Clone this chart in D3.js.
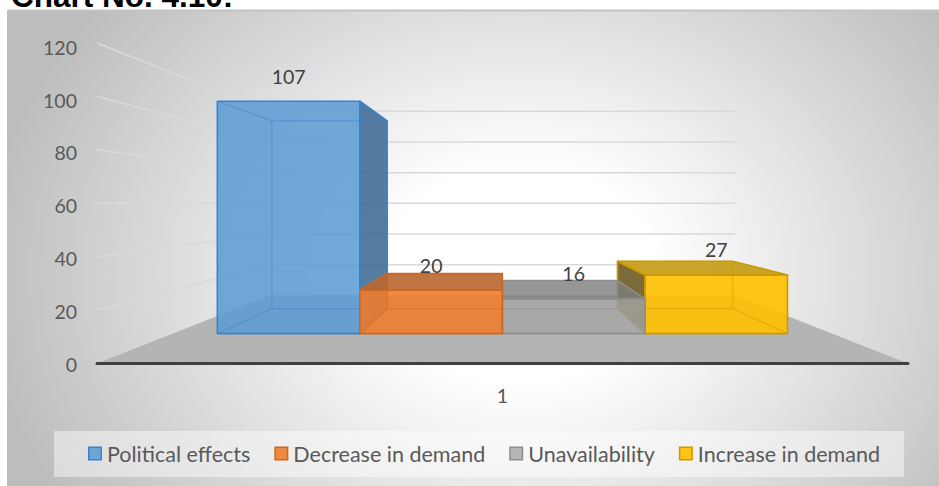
<!DOCTYPE html>
<html>
<head>
<meta charset="utf-8">
<script src="https://cdn.jsdelivr.net/npm/d3@7"></script>
<style>
  html, body { margin: 0; padding: 0; background: #ffffff; }
  svg { display: block; }
</style>
</head>
<body>
<svg id="chart" width="939" height="486"></svg>
<script>
// ---- data ----
const titleText = "Chart No. 4.10:";
const categories = ["1"];
const seriesNames = ["Political effects", "Decrease in demand", "Unavailability", "Increase in demand"];
const seriesValues = [107, 20, 16, 27];
const yTicks = [0, 20, 40, 60, 80, 100, 120];

// ---- styling ----
const palette = [
  { front: "#5b9bd5", top: "#4f8cc7", side: "#3a6791", edge: "#3b82c8", op: 0.86 },
  { front: "#ed7d31", top: "#b9672f", side: "#b5602a", edge: "#d0661c", op: 0.9 },
  { front: "#a5a5a5", top: "#7d7d7d", side: "#7a7a7a", edge: "#8e8e8e", op: 0.8 },
  { front: "#ffc000", top: "#c49b12", side: "#6e5a22", edge: "#c99a06", op: 0.9 }
];
const fontFamily = "Lato, 'Open Sans', sans-serif";

const W = 939, H = 486;
const svg = d3.select("#chart");

// ---- perspective set-up ----
// vanishing point and relative scale of each depth plane (1 = front edge of floor)
const vp = { x: 502, y: 203.5 };
const depth = { front: 1, barFront: 0.813, barBack: 0.657, back: 0.574 };
const project = (X, Y, s) => [vp.x + (X - vp.x) * s, vp.y + (Y - vp.y) * s];

// value scale on the front plane, and a second one for the tick text
const y = d3.scaleLinear().domain([0, 120]).range([363.5, 43]);
const yText = d3.scaleLinear().domain([0, 120]).range([365, 48]);

// category band across the floor, series bands inside it
const xCat = d3.scaleBand().domain(categories).range([97, 908]).padding(0);
const xSeries = d3.scaleBand().domain(seriesNames)
  .range([xCat(categories[0]), xCat(categories[0]) + xCat.bandwidth()])
  .paddingInner(0).paddingOuter(0.313);

const floorLeft = xCat.range()[0], floorRight = xCat.range()[1];

// ---- background ----
const defs = svg.append("defs");
const bg = defs.append("radialGradient").attr("id", "bgGrad")
  .attr("gradientUnits", "userSpaceOnUse")
  .attr("cx", 0).attr("cy", 0).attr("r", 1)
  .attr("gradientTransform", "translate(520,275) scale(540,430)");
bg.append("stop").attr("offset", 0).attr("stop-color", "#ffffff");
bg.append("stop").attr("offset", 0.25).attr("stop-color", "#ffffff");
bg.append("stop").attr("offset", 1).attr("stop-color", "#bdbdbd");

svg.append("rect").attr("x", 7).attr("y", 10).attr("width", W - 7).attr("height", H - 10)
  .attr("fill", "url(#bgGrad)");
svg.append("line").attr("x1", 7).attr("x2", W).attr("y1", 10.5).attr("y2", 10.5)
  .attr("stroke", "#c3c3c3").attr("stroke-width", 2);

// title (runs off the top edge of the page)
svg.append("text").attr("x", 11).attr("y", 7)
  .attr("font-family", "'Liberation Sans', Arial, sans-serif")
  .attr("font-weight", "bold").attr("font-size", 31.5).attr("fill", "#000")
  .text(titleText);

const line = d3.line();

// ---- floor ----
svg.append("path")
  .attr("d", line([
    project(floorLeft, y(0), depth.front),
    project(floorRight, y(0), depth.front),
    project(floorRight, y(0), depth.back),
    project(floorLeft, y(0), depth.back)
  ]) + "Z")
  .attr("fill", "#b4b4b4");

// ---- gridlines on side wall and back wall ----
const grid = svg.append("g").attr("stroke", "#d9d9d9").attr("stroke-width", 1.5).attr("fill", "none");
yTicks.filter(v => v > 0).forEach(v => {
  grid.append("path").attr("d", line([
    project(floorLeft, y(v), depth.front),
    project(floorLeft, y(v), depth.back),
    project(floorRight, y(v), depth.back)
  ]));
});

// ---- axis line ----
svg.append("line")
  .attr("x1", floorLeft).attr("x2", floorRight)
  .attr("y1", y(0)).attr("y2", y(0))
  .attr("stroke", "#3f3f3f").attr("stroke-width", 3).attr("stroke-linecap", "round");

// value axis tick text
const yAxis = d3.axisLeft(yText).tickValues(yTicks).tickSize(0).tickPadding(0);
const yAxisG = svg.append("g").attr("transform", "translate(77,0)").call(yAxis);
yAxisG.select(".domain").remove();
yAxisG.selectAll("text")
  .attr("font-family", fontFamily).attr("font-size", 19.5).attr("fill", "#595959");

// category text
const xAxis = d3.axisBottom(xCat).tickSize(0).tickPadding(0);
const xAxisG = svg.append("g").attr("transform", "translate(0,389)").call(xAxis);
xAxisG.select(".domain").remove();
xAxisG.selectAll("text")
  .attr("font-family", fontFamily).attr("font-size", 19.5).attr("fill", "#595959");

// ---- 3-D columns ----
const bars = seriesNames.map((name, i) => {
  const X0 = xSeries(name), X1 = X0 + xSeries.bandwidth();
  return { name, i, value: seriesValues[i], X0, X1, cx: (X0 + X1) / 2 };
});
// paint columns farthest from the eye first
const order = bars.slice().sort((a, b) => Math.abs(b.cx - vp.x) - Math.abs(a.cx - vp.x));

const barLayer = svg.append("g");
order.forEach(b => {
  const c = palette[b.i];
  const yt = y(b.value), yb = y(0);
  const f = depth.barFront, k = depth.barBack;
  const FTL = project(b.X0, yt, f), FTR = project(b.X1, yt, f),
        FBR = project(b.X1, yb, f), FBL = project(b.X0, yb, f);
  const BTL = project(b.X0, yt, k), BTR = project(b.X1, yt, k),
        BBR = project(b.X1, yb, k), BBL = project(b.X0, yb, k);

  const g = barLayer.append("g");
  const face = (pts, fill) => g.append("path").attr("d", line(pts) + "Z")
    .attr("fill", fill).attr("fill-opacity", c.op).attr("stroke", "none");

  const faces = [];
  if (b.X0 > vp.x + 0.5) faces.push([[FTL, BTL, BBL, FBL], c.side]);
  if (b.X1 < vp.x - 0.5) faces.push([[FTR, BTR, BBR, FBR], c.side]);
  if (yt > vp.y) faces.push([[FTL, FTR, BTR, BTL], c.top]);
  faces.push([[FTL, FTR, FBR, FBL], c.front]);
  faces.forEach(([pts, fill]) => face(pts, fill));

  // edges that lie behind the faces show faintly through them
  const allEdges = [
    [BTL, BTR], [BTR, BBR], [BBR, BBL], [BBL, BTL],
    [FTL, BTL], [FTR, BTR], [FBR, BBR], [FBL, BBL]
  ];
  allEdges.forEach(e => g.append("path").attr("d", line(e))
    .attr("stroke", c.edge).attr("stroke-opacity", 0.45).attr("stroke-width", 1.2).attr("fill", "none"));

  // outlines of the visible faces
  faces.forEach(([pts]) => g.append("path").attr("d", line(pts) + "Z")
    .attr("fill", "none").attr("stroke", c.edge).attr("stroke-width", 1.6).attr("stroke-linejoin", "round"));
});

// ---- value labels ----
svg.append("g").selectAll("text").data(bars).join("text")
  .attr("x", d => project(d.cx, y(d.value), depth.barFront)[0])
  .attr("y", d => project(d.cx, y(d.value), depth.barFront)[1] - 17.5)
  .attr("text-anchor", "middle")
  .attr("font-family", fontFamily).attr("font-size", 19.5).attr("fill", "#404040")
  .text(d => d.value);

// ---- legend ----
const legendG = svg.append("g");
legendG.append("rect").attr("x", 54).attr("y", 431).attr("width", 850).attr("height", 46)
  .attr("fill", "#ffffff").attr("fill-opacity", 0.45);
const items = legendG.append("g");
const legendGap = 24;
let lx = 0;
seriesNames.forEach((name, i) => {
  const c = palette[i];
  const it = items.append("g").attr("transform", `translate(${lx},0)`);
  it.append("rect").attr("x", 0.75).attr("y", 447.25).attr("width", 12.5).attr("height", 12.5)
    .attr("fill", c.front).attr("fill-opacity", c.op).attr("stroke", c.edge).attr("stroke-width", 1.5);
  const t = it.append("text").attr("x", 19).attr("y", 461.5)
    .attr("font-family", fontFamily).attr("font-size", 21.5).attr("fill", "#595959")
    .text(name);
  lx += 19 + t.node().getComputedTextLength() + legendGap;
});
const legendWidth = lx - legendGap;
items.attr("transform", `translate(${484 - legendWidth / 2},0)`);
</script>
</body>
</html>
